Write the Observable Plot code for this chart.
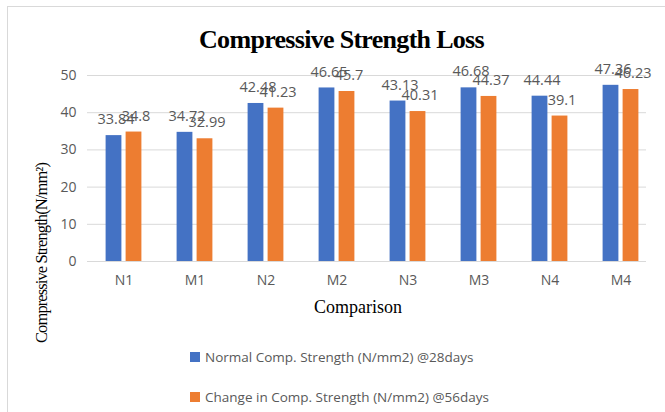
<!DOCTYPE html>
<html><head><meta charset="utf-8">
<script src="https://cdn.jsdelivr.net/npm/d3@7"></script>
<script src="https://cdn.jsdelivr.net/npm/@observablehq/plot@0.6"></script>
<style>
body{margin:0;background:#fff;}
#chart{position:relative;width:665px;height:412px;overflow:hidden;background:#fff;}
#frame{position:absolute;left:7px;top:6px;width:660px;height:420px;border:1px solid #d9d9d9;box-sizing:border-box;pointer-events:none;}
#title{height:55px;box-sizing:border-box;padding-top:27px;padding-left:18px;text-align:center;font-family:"Liberation Serif","Times New Roman",serif;font-weight:bold;font-size:26px;line-height:25px;letter-spacing:-0.7px;color:#000;}
#plot svg{display:block;}
#ylabel{position:absolute;left:42px;top:253px;width:0;height:0;}
#ylabel span{position:absolute;left:0;top:0;transform:translate(-50%,-50%) rotate(-90deg);white-space:nowrap;font-family:"Liberation Serif","Times New Roman",serif;font-size:16.5px;letter-spacing:-0.9px;color:#000;}
#legend{position:absolute;left:190px;top:347px;font-family:"Open Sans",sans-serif;font-size:13.5px;color:#595959;}
.item{display:flex;align-items:center;height:20px;margin-bottom:20px;}
.sw{width:10px;height:10px;margin-right:5px;}
</style></head><body>
<div id="chart"><div id="frame"></div><div id="title"></div><div id="plot"></div><div id="ylabel"><span></span></div><div id="legend"></div></div>
<script>
const categories = ["N1","M1","N2","M2","N3","M3","N4","M4"];
const normal28 = [33.84,34.72,42.48,46.65,43.13,46.68,44.44,47.36];
const change56 = [34.8,32.99,41.23,45.7,40.31,44.37,39.1,46.23];
const seriesNames = ["Normal Comp. Strength (N/mm2) @28days","Change in Comp. Strength (N/mm2) @56days"];
const yTicks = [0,10,20,30,40,50];
const colors = ["#4472C4","#ED7D31"];
const titleText = "Compressive Strength Loss";
const xLabel = "Comparison";
const yLabel = "Compressive Strength(N/mm²)";

document.getElementById("title").textContent = titleText;
document.querySelector("#ylabel span").textContent = yLabel;

const rows = categories.map((c,i)=>({cat:c, a:normal28[i], b:change56[i]}));

const plot = Plot.plot({
  width: 665,
  height: 275,
  marginLeft: 87,
  marginRight: 19,
  marginTop: 20,
  marginBottom: 69,
  style: {fontFamily: "'Open Sans', sans-serif", fontSize: "13px", background: "transparent"},
  x: {domain: categories, range: [87, 657], padding: 0},
  y: {domain: [0, 50]},
  marks: [
    Plot.ruleY(yTicks, {stroke: "#d9d9d9", strokeWidth: 1}),
    Plot.axisY({ticks: yTicks, tickSize: 0, tickPadding: 11, fontSize: 14, color: "#595959", label: null}),
    Plot.axisX({tickSize: 0, tickPadding: 14, fontSize: 14, color: "#595959", label: null}),
    Plot.barY(rows, {x: "cat", y: "a", fill: colors[0], insetLeft: 17.6, insetRight: 37.6}),
    Plot.barY(rows, {x: "cat", y: "b", fill: colors[1], insetLeft: 37.6, insetRight: 17.6}),
    Plot.text(rows, {x: "cat", y: "a", text: d => String(d.a), dx: -8, dy: -16, fill: "#595959", fontSize: 14.5}),
    Plot.text(rows, {x: "cat", y: "b", text: d => String(d.b), dx: 12, dy: -16, fill: "#595959", fontSize: 14.5}),
    Plot.text([xLabel], {frameAnchor: "bottom", text: d => d, dx: -9, dy: 51, fill: "#000", fontSize: 18, fontFamily: "'Liberation Serif', serif"})
  ]
});
document.getElementById("plot").appendChild(plot);

const legend = document.getElementById("legend");
seriesNames.forEach((n,i)=>{
  const it = document.createElement("div"); it.className = "item";
  const sw = document.createElement("div"); sw.className = "sw"; sw.style.background = colors[i];
  const t = document.createElement("span"); t.textContent = n;
  it.appendChild(sw); it.appendChild(t); legend.appendChild(it);
});
</script>
</body></html>
